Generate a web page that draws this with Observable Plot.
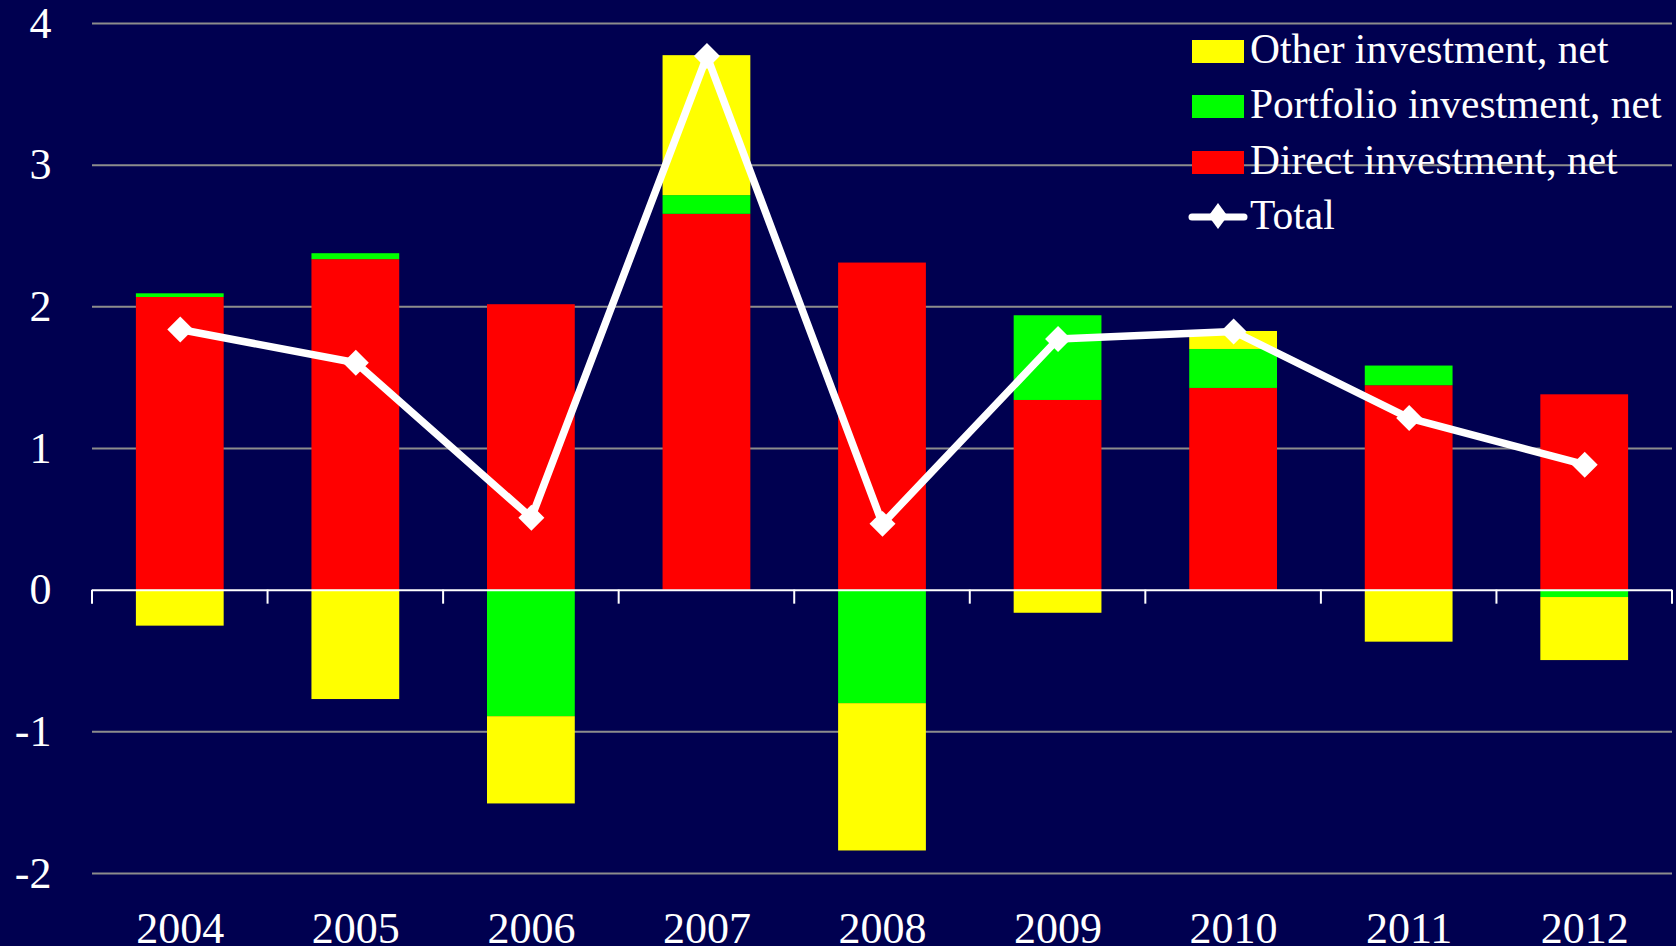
<!DOCTYPE html>
<html>
<head>
<meta charset="utf-8">
<script src="https://cdn.jsdelivr.net/npm/d3@7"></script>
<script src="https://cdn.jsdelivr.net/npm/@observablehq/plot@0.6"></script>
<style>
  html, body { margin: 0; padding: 0; background: #000050; }
  #wrap { position: relative; width: 1676px; height: 946px; background: #000050; overflow: hidden; }
  #legend { position: absolute; left: 0; top: 0; font-family: "Liberation Serif", serif; font-size: 41.5px; color: #ffffff; }
  .row { position: absolute; left: 1188px; display: flex; align-items: baseline; line-height: 1; white-space: nowrap; }
  .sw { display: inline-block; width: 52px; height: 23px; margin-left: 4px; margin-right: 6px; }
</style>
</head>
<body>
<div id="wrap"><div id="legend"></div></div>
<script>
// ---- data ----
const years = ["2004", "2005", "2006", "2007", "2008", "2009", "2010", "2011", "2012"];
const directInvestment    = [2.066, 2.333, 2.015, 2.653, 2.309, 1.339, 1.424, 1.443, 1.379];
const portfolioInvestment = [0.026, 0.042, -0.893, 0.132, -0.801, 0.598, 0.275, 0.139, -0.052];
const otherInvestment     = [-0.254, -0.772, -0.616, 0.988, -1.040, -0.163, 0.127, -0.367, -0.445];
const total               = [1.84, 1.605, 0.511, 3.77, 0.468, 1.773, 1.826, 1.215, 0.886];
const seriesNames = ["Direct investment, net", "Portfolio investment, net", "Other investment, net"];
const seriesColors = ["#ff0000", "#00ff00", "#ffff00"];
const yTicks = [-2, -1, 0, 1, 2, 3, 4];
const gridTicks = [-2, -1, 1, 2, 3, 4];

// ---- table ----
const seriesValues = [directInvestment, portfolioInvestment, otherInvestment];
const rows = [];
years.forEach((yr, i) => {
  seriesNames.forEach((s, k) => rows.push({year: yr, series: s, value: seriesValues[k][i]}));
});
const totalRows = years.map((yr, i) => ({year: yr, total: total[i]}));

const W = 1676, H = 946;
const plot = Plot.plot({
  width: W,
  height: H,
  marginLeft: 92,
  marginRight: 4,
  marginTop: 23,
  marginBottom: 73,
  style: {background: "#000050", color: "#ffffff", fontFamily: "'Liberation Serif', serif", fontSize: "44px", overflow: "visible"},
  x: {type: "band", domain: years, paddingInner: 0.5, paddingOuter: 0.25, align: 0.5, round: false,
      tickSize: 0, tickPadding: 38, label: null},
  y: {domain: [-2, 4], ticks: yTicks, tickSize: 0, tickPadding: 41, label: null, tickFormat: d => String(d)},
  color: {domain: seriesNames, range: seriesColors},
  marks: [
    Plot.ruleY(gridTicks, {stroke: "#8c8c8c", strokeWidth: 2}),
    Plot.barY(rows, Plot.stackY({x: "year", y: "value", fill: "series", order: seriesNames})),
    Plot.ruleY([0], {stroke: "#ffffff", strokeWidth: 2}),
    Plot.line(totalRows, {x: "year", y: "total", stroke: "#ffffff", strokeWidth: 7.5, strokeLinejoin: "round"}),
    Plot.dot(totalRows, {x: "year", y: "total", symbol: "diamond2", r: 11.7, fill: "#ffffff", stroke: "none"})
  ]
});
document.getElementById("wrap").appendChild(plot);

// category-boundary tick marks on the zero line, positioned from Plot's own scales
const xs = plot.scale("x"), ys = plot.scale("y");
const y0 = ys.apply(0);
const half = (xs.step - xs.bandwidth) / 2;
const bounds = years.map(yr => xs.apply(yr) - half).concat([xs.apply(years[years.length - 1]) + xs.bandwidth + half]);
const svg = d3.select(plot);
svg.append("g").selectAll("line").data(bounds).join("line")
  .attr("x1", d => d).attr("x2", d => d)
  .attr("y1", y0).attr("y2", y0 + 14)
  .attr("stroke", "#ffffff").attr("stroke-width", 2);

// legend (drawn inside the plot area, top right)
const legendItems = [
  {label: "Other investment, net", color: "#ffff00"},
  {label: "Portfolio investment, net", color: "#00ff00"},
  {label: "Direct investment, net", color: "#ff0000"},
  {label: "Total", line: true}
];
const legend = document.getElementById("legend");
legendItems.forEach((it, i) => {
  const row = document.createElement("div");
  row.className = "row";
  row.style.top = (28.5 + i * 55.6) + "px";
  if (it.line) {
    row.innerHTML = `<svg width="60" height="26" style="margin-right:2px"><line x1="4" x2="56" y1="14" y2="14" stroke="#fff" stroke-width="7" stroke-linecap="round"/><path d="M30 0 L39.5 13 L30 26 L20.5 13 Z" fill="#fff"/></svg><span>${it.label}</span>`;
  } else {
    row.innerHTML = `<span class="sw" style="background:${it.color}"></span><span>${it.label}</span>`;
  }
  legend.appendChild(row);
});
</script>
</body>
</html>
